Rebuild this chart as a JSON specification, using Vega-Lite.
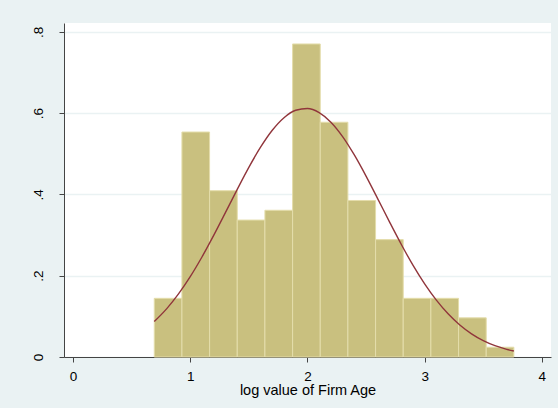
{
  "$schema": "https://vega.github.io/schema/vega-lite/v6.json",
  "width": 487,
  "height": 334,
  "autosize": {"type": "none"},
  "padding": {"left": 64, "top": 23, "right": 7, "bottom": 51},
  "background": "#EAF2F3",
  "view": {"fill": "white", "stroke": null},
  "config": {
    "font": "Liberation Sans",
    "axis": {"domainColor": "#444444", "tickColor": "#444444", "labelColor": "#000000", "titleColor": "#000000", "labelFont": "Liberation Sans", "titleFont": "Liberation Sans", "titleFontWeight": "normal"}
  },
  "datasets": {
    "bins": [
      {"bin_start": 0.6931, "bin_end": 0.9291, "density": 0.1444},
      {"bin_start": 0.9291, "bin_end": 1.1651, "density": 0.5537},
      {"bin_start": 1.1651, "bin_end": 1.4012, "density": 0.4093},
      {"bin_start": 1.4012, "bin_end": 1.6372, "density": 0.3370},
      {"bin_start": 1.6372, "bin_end": 1.8732, "density": 0.3611},
      {"bin_start": 1.8732, "bin_end": 2.1092, "density": 0.7704},
      {"bin_start": 2.1092, "bin_end": 2.3452, "density": 0.5778},
      {"bin_start": 2.3452, "bin_end": 2.5812, "density": 0.3852},
      {"bin_start": 2.5812, "bin_end": 2.8172, "density": 0.2889},
      {"bin_start": 2.8172, "bin_end": 3.0532, "density": 0.1444},
      {"bin_start": 3.0532, "bin_end": 3.2893, "density": 0.1444},
      {"bin_start": 3.2893, "bin_end": 3.5253, "density": 0.0963},
      {"bin_start": 3.5253, "bin_end": 3.7613, "density": 0.0241}
    ],
    "normal": [
      {"x": 0.6931, "y": 0.0872},
      {"x": 0.8, "y": 0.1190},
      {"x": 0.9, "y": 0.1552},
      {"x": 1.0, "y": 0.1977},
      {"x": 1.1, "y": 0.2461},
      {"x": 1.2, "y": 0.2992},
      {"x": 1.3, "y": 0.3552},
      {"x": 1.4, "y": 0.4120},
      {"x": 1.5, "y": 0.4667},
      {"x": 1.6, "y": 0.5163},
      {"x": 1.7, "y": 0.5580},
      {"x": 1.8, "y": 0.5890},
      {"x": 1.9, "y": 0.6073},
      {"x": 2.0, "y": 0.6116},
      {"x": 2.1, "y": 0.6016},
      {"x": 2.2, "y": 0.5780},
      {"x": 2.3, "y": 0.5425},
      {"x": 2.4, "y": 0.4972},
      {"x": 2.5, "y": 0.4452},
      {"x": 2.6, "y": 0.3893},
      {"x": 2.7, "y": 0.3326},
      {"x": 2.8, "y": 0.2775},
      {"x": 2.9, "y": 0.2261},
      {"x": 3.0, "y": 0.1800},
      {"x": 3.1, "y": 0.1399},
      {"x": 3.2, "y": 0.1063},
      {"x": 3.3, "y": 0.0788},
      {"x": 3.4, "y": 0.0571},
      {"x": 3.5, "y": 0.0404},
      {"x": 3.6, "y": 0.0279},
      {"x": 3.7, "y": 0.0189},
      {"x": 3.7613, "y": 0.0147}
    ]
  },
  "layer": [
    {
      "data": {"name": "bins"},
      "mark": {"type": "rect", "fill": "#C9C07F", "stroke": "#E4DDAB", "strokeWidth": 1},
      "encoding": {
        "x": {
          "field": "bin_start", "type": "quantitative",
          "scale": {"domain": [-0.077, 4.078], "nice": false, "zero": false},
          "axis": {
            "values": [0, 1, 2, 3, 4], "grid": false, "format": "d",
            "tickSize": 5, "labelPadding": 7, "labelFontSize": 13.5,
            "title": "log value of Firm Age", "titleFontSize": 14.5, "titlePadding": 1
          }
        },
        "x2": {"field": "bin_end"},
        "y": {
          "field": "density", "type": "quantitative",
          "scale": {"domain": [0, 0.822], "nice": false},
          "axis": {
            "values": [0, 0.2, 0.4, 0.6, 0.8],
            "labelExpr": "datum.value == 0 ? '0' : replace(format(datum.value, '.1f'), '0.', '.')",
            "labelAngle": -90, "labelAlign": "center", "labelBaseline": "alphabetic",
            "labelPadding": 17, "labelFontSize": 13.5, "tickSize": 5,
            "grid": true, "gridColor": "#EAF2F3", "gridWidth": 1.5,
            "title": null
          }
        },
        "y2": {"datum": 0}
      }
    },
    {
      "data": {"name": "normal"},
      "mark": {"type": "line", "color": "#90353B", "strokeWidth": 1.4, "interpolate": "monotone"},
      "encoding": {
        "x": {"field": "x", "type": "quantitative"},
        "y": {"field": "y", "type": "quantitative"}
      }
    }
  ]
}
